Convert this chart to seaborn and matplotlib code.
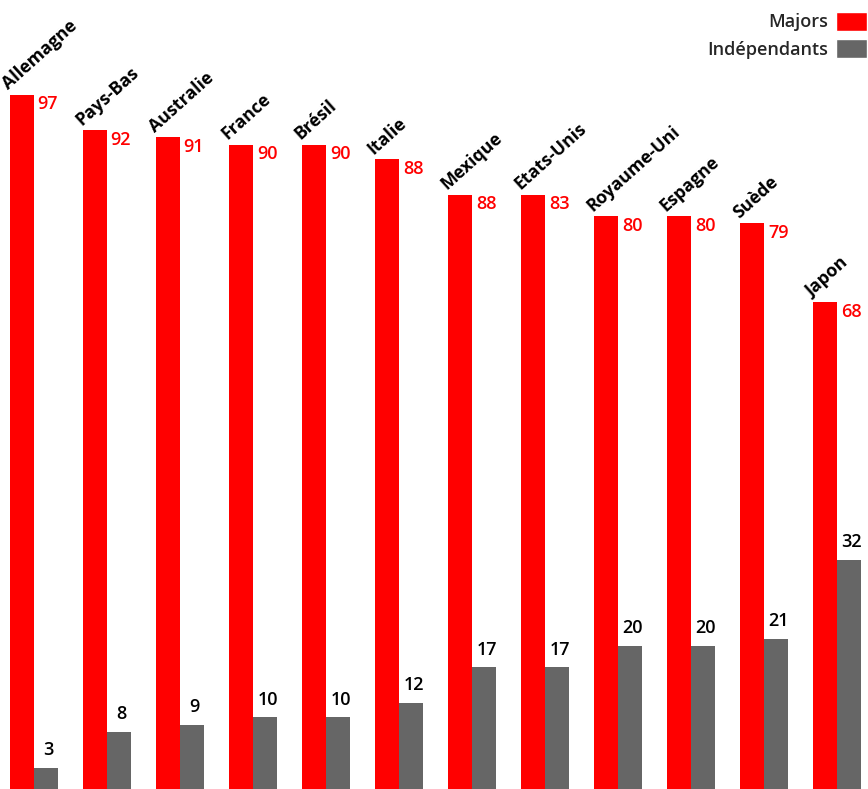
import pandas as pd
import seaborn as sns
import matplotlib.pyplot as plt
from matplotlib.patches import Patch

# Parts de marché par pays (%)
countries = ['Allemagne', 'Pays-Bas', 'Australie', 'France', 'Brésil', 'Italie',
             'Mexique', 'Etats-Unis', 'Royaume-Uni', 'Espagne', 'Suède', 'Japon']
majors = [97, 92, 91, 90, 90, 88, 83, 83, 80, 80, 79, 68]
majors_labels = ['97', '92', '91', '90', '90', '88', '88', '83', '80', '80', '79', '68']
independants = [3, 8, 9, 10, 10, 12, 17, 17, 20, 20, 21, 32]
independants_labels = ['3', '8', '9', '10', '10', '12', '17', '17', '20', '20', '21', '32']
series = ['Majors', 'Indépendants']
colors = {'Majors': '#ff0000', 'Indépendants': '#666666'}

data = pd.DataFrame({
    'pays': countries * 2,
    'type': [series[0]] * len(countries) + [series[1]] * len(countries),
    'part': majors + independants,
})

sns.set_style('white')
plt.rcParams['font.family'] = ['Open Sans', 'DejaVu Sans']

fig = plt.figure(figsize=(8.68, 7.89), dpi=100)
ax = fig.add_axes([0, 0, 1, 1])

sns.barplot(data=data, x='pays', y='part', hue='type', palette=colors,
            width=0.66, gap=0, saturation=1, legend=False, linewidth=0, ax=ax)

ax.set_xlim(-0.466, 11.42)
ax.set_ylim(0, 110.2)
ax.axis('off')

# Noms des pays et valeurs des majors
for bar, name, lab in zip(ax.containers[0], countries, majors_labels):
    x0 = bar.get_x()
    top = bar.get_height()
    ax.text(x0 + 0.02, top + 0.2, name, rotation=42, rotation_mode='anchor',
            ha='left', va='bottom', fontsize=12.8, fontweight='bold', color='black')
    ax.text(x0 + bar.get_width() + 0.05, top - 0.1, lab, ha='left', va='top',
            fontsize=13, fontweight='semibold', color='#ff0000')

# Valeurs des indépendants
for bar, lab in zip(ax.containers[1], independants_labels):
    ax.text(bar.get_x() + bar.get_width() * 0.6, bar.get_height() + 1.2, lab,
            ha='center', va='bottom', fontsize=13, fontweight='semibold', color='black')

handles = [Patch(facecolor=colors[s], label=s) for s in series]
ax.legend(handles=handles, loc='upper right', bbox_to_anchor=(1.018, 1.006),
          frameon=False, markerfirst=False, handlelength=1.75,
          handleheight=1.3, handletextpad=0.45, labelspacing=0.4,
          prop={'weight': 'semibold', 'size': 13})

fig.savefig('out.png', dpi=100)
plt.close(fig)
